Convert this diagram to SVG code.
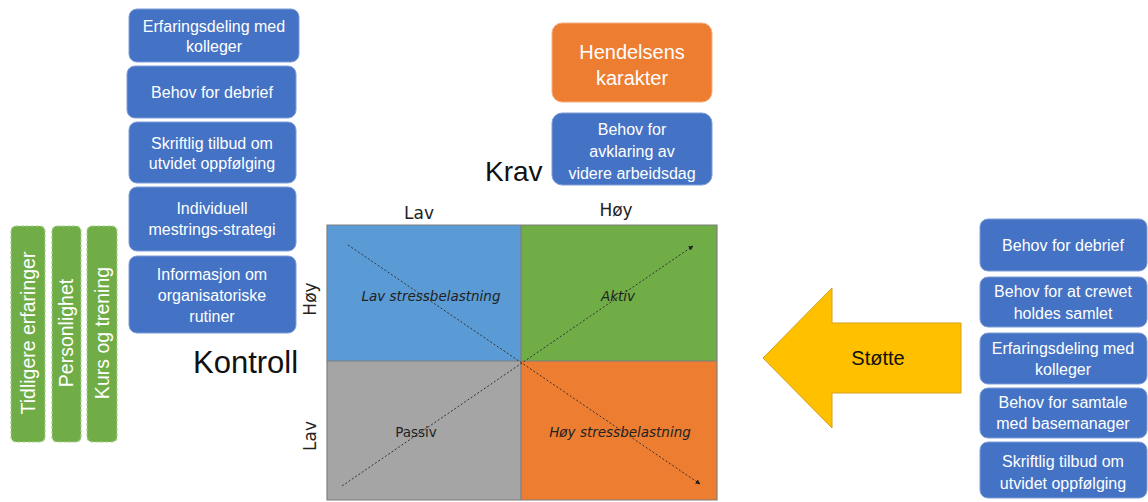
<svg xmlns="http://www.w3.org/2000/svg" width="1148" height="502" viewBox="0 0 1148 502">
  <style>
    .blue { fill: #4472C4; stroke: #7F9DD6; stroke-width: 1; }
    .green { fill: #70AD47; stroke: #A9D18E; stroke-width: 1.2; stroke-dasharray: 3 2; }
    .wt { font-family: "Liberation Sans", Arial, sans-serif; font-size: 16px; fill: #FFFFFF; text-anchor: middle; dominant-baseline: central; }
    .gt { font-family: "Liberation Sans", Arial, sans-serif; font-size: 19.5px; fill: #FFFFFF; text-anchor: middle; dominant-baseline: central; }
    .ax { font-family: "DejaVu Sans", Verdana, sans-serif; font-size: 17px; fill: #222; text-anchor: middle; dominant-baseline: central; }
    .q { font-family: "DejaVu Sans", Verdana, sans-serif; font-size: 13.5px; fill: #222; text-anchor: middle; dominant-baseline: central; }
    .big { font-family: "Liberation Sans", Arial, sans-serif; fill: #111; }
    .diag { stroke: #333; stroke-width: 1; stroke-dasharray: 2 2; fill: none; }
  </style>
  <defs>
    <marker id="tip" viewBox="0 0 10 10" refX="9" refY="5" markerWidth="5" markerHeight="5" orient="auto">
      <path d="M0,0 L10,5 L0,10 z" fill="#222"/>
    </marker>
  </defs>

  <!-- Left column: blue control factors -->
  <g id="l1"><rect class="blue" x="129" y="9" width="170" height="53" rx="8"/>
    <text class="wt" x="214" y="26">Erfaringsdeling med</text><text class="wt" x="214" y="46">kolleger</text></g>
  <g id="l2"><rect class="blue" x="127" y="66" width="169" height="52" rx="8"/>
    <text class="wt" x="212" y="92">Behov for debrief</text></g>
  <g id="l3"><rect class="blue" x="129" y="122" width="167" height="61" rx="8"/>
    <text class="wt" x="212" y="143">Skriftlig tilbud om</text><text class="wt" x="212" y="163">utvidet oppfølging</text></g>
  <g id="l4"><rect class="blue" x="129" y="187" width="167" height="64" rx="8"/>
    <text class="wt" x="212" y="208">Individuell</text><text class="wt" x="212" y="229">mestrings-strategi</text></g>
  <g id="l5"><rect class="blue" x="129" y="256" width="167" height="77" rx="8"/>
    <text class="wt" x="212" y="274">Informasjon om</text><text class="wt" x="212" y="295">organisatoriske</text><text class="wt" x="212" y="316">rutiner</text></g>

  <!-- Green vertical personal factors -->
  <g id="g1"><rect class="green" x="11" y="226" width="34" height="216" rx="5"/>
    <text class="gt" transform="translate(28,333) rotate(-90)">Tidligere erfaringer</text></g>
  <g id="g2"><rect class="green" x="52" y="226" width="29" height="216" rx="5"/>
    <text class="gt" transform="translate(66,333) rotate(-90)">Personlighet</text></g>
  <g id="g3"><rect class="green" x="87" y="226" width="30" height="216" rx="5"/>
    <text class="gt" transform="translate(102,333) rotate(-90)">Kurs og trening</text></g>

  <!-- Demand side -->
  <g id="event"><rect x="552" y="23" width="160" height="79" rx="10" fill="#ED7D31" stroke="#F4B183" stroke-width="1"/>
    <text class="wt" x="632" y="52" style="font-size:20px">Hendelsens</text><text class="wt" x="632" y="78" style="font-size:20px">karakter</text></g>
  <g id="clarify"><rect class="blue" x="552" y="113" width="160" height="72" rx="10"/>
    <text class="wt" x="632" y="129">Behov for</text><text class="wt" x="632" y="151">avklaring av</text><text class="wt" x="632" y="173">videre arbeidsdag</text></g>

  <text class="big" x="485" y="181" style="font-size:28px">Krav</text>
  <text class="big" x="193" y="373" style="font-size:31px">Kontroll</text>

  <!-- Demand/control matrix -->
  <g id="matrix">
    <rect x="327" y="225" width="194" height="136" fill="#5B9BD5"/>
    <rect x="521" y="225" width="196" height="136" fill="#70AD47"/>
    <rect x="327" y="361" width="194" height="139" fill="#A5A5A5"/>
    <rect x="521" y="361" width="196" height="139" fill="#ED7D31"/>
    <path d="M327,225 H717 V500 H327 Z M521,225 V500 M327,361 H717" fill="none" stroke="#7F7F7F" stroke-width="1.2"/>
    <text class="q" x="431" y="296" font-style="italic">Lav stressbelastning</text>
    <text class="q" x="618" y="296" font-style="italic">Aktiv</text>
    <text class="q" x="416" y="432">Passiv</text>
    <text class="q" x="620" y="432" font-style="italic">Høy stressbelastning</text>
  </g>
  <text class="ax" x="419" y="213">Lav</text>
  <text class="ax" x="616" y="210">Høy</text>
  <text class="ax" transform="translate(310,299) rotate(-90)">Høy</text>
  <text class="ax" transform="translate(310,436) rotate(-90)">Lav</text>

  <!-- Diagonal trend lines -->
  <g id="connectors">
    <line class="diag" x1="348" y1="245" x2="700" y2="484" marker-end="url(#tip)"/>
    <line class="diag" x1="342" y1="486" x2="693" y2="246" marker-end="url(#tip)"/>
  </g>

  <!-- Support arrow -->
  <g id="support">
    <polygon points="763,358 832,288 832,323 961,323 961,393 832,393 832,428" fill="#FFC000" stroke="#D4A017" stroke-width="1"/>
    <text class="big" x="878" y="358" style="font-size:20px" text-anchor="middle" dominant-baseline="central">Støtte</text>
  </g>

  <!-- Right column: support needs -->
  <g id="r1"><rect class="blue" x="980" y="219" width="167" height="52" rx="8"/>
    <text class="wt" x="1063" y="245">Behov for debrief</text></g>
  <g id="r2"><rect class="blue" x="980" y="277" width="167" height="50" rx="8"/>
    <text class="wt" x="1063" y="291">Behov for at crewet</text><text class="wt" x="1063" y="313">holdes samlet</text></g>
  <g id="r3"><rect class="blue" x="980" y="333" width="167" height="51" rx="8"/>
    <text class="wt" x="1063" y="348">Erfaringsdeling med</text><text class="wt" x="1063" y="369">kolleger</text></g>
  <g id="r4"><rect class="blue" x="980" y="388" width="167" height="50" rx="8"/>
    <text class="wt" x="1063" y="402">Behov for samtale</text><text class="wt" x="1063" y="423">med basemanager</text></g>
  <g id="r5"><rect class="blue" x="980" y="442" width="167" height="56" rx="8"/>
    <text class="wt" x="1063" y="461">Skriftlig tilbud om</text><text class="wt" x="1063" y="483">utvidet oppfølging</text></g>
</svg>
